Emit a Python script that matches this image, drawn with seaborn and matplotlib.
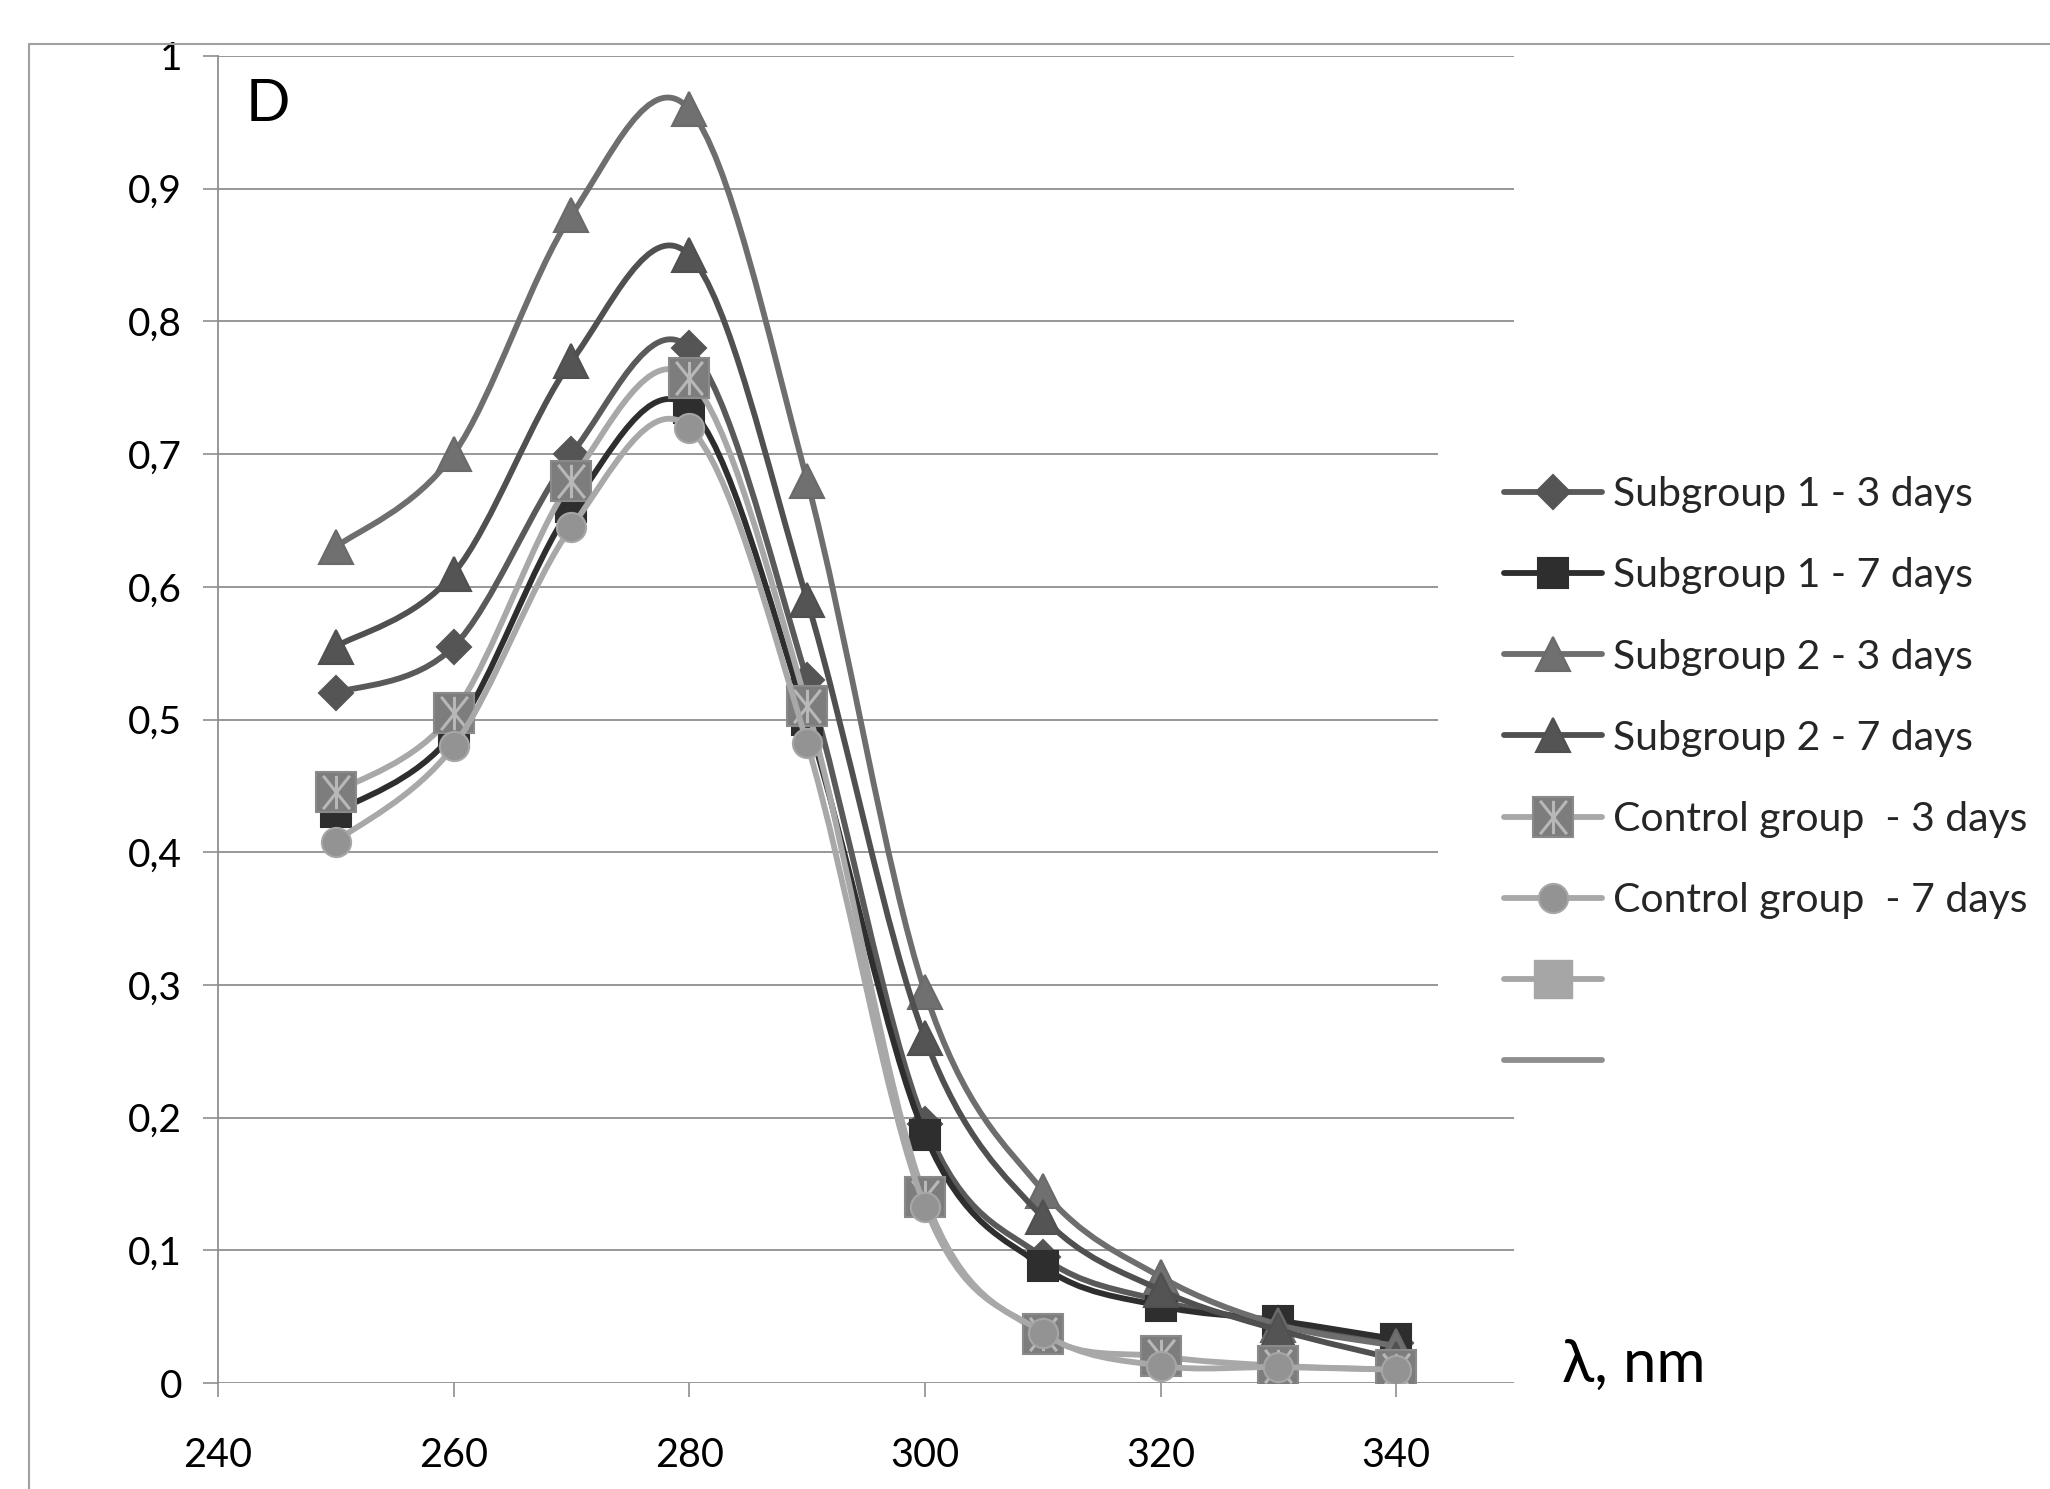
import numpy as np
import pandas as pd
import matplotlib
matplotlib.use("Agg")
import matplotlib.pyplot as plt
import seaborn as sns
from matplotlib.path import Path
from matplotlib.patches import PathPatch, Rectangle
from matplotlib.lines import Line2D
from matplotlib.ticker import FixedLocator, FixedFormatter

# ---------------- data ----------------
wavelength = [250, 260, 270, 280, 290, 300, 310, 320, 330, 340]
sub1_3d = [0.52, 0.555, 0.70, 0.78, 0.53, 0.195, 0.095, 0.062, 0.045, 0.030]
sub1_7d = [0.43, 0.49, 0.66, 0.735, 0.50, 0.187, 0.088, 0.058, 0.047, 0.033]
sub2_3d = [0.63, 0.70, 0.88, 0.96, 0.68, 0.295, 0.145, 0.080, 0.044, 0.028]
sub2_7d = [0.555, 0.61, 0.77, 0.85, 0.59, 0.26, 0.125, 0.070, 0.040, 0.018]
ctrl_3d = [0.445, 0.505, 0.68, 0.757, 0.51, 0.14, 0.037, 0.020, 0.013, 0.010]
ctrl_7d = [0.408, 0.48, 0.645, 0.72, 0.482, 0.133, 0.038, 0.013, 0.012, 0.010]

series_labels = ["Subgroup 1 - 3 days", "Subgroup 1 - 7 days",
                 "Subgroup 2 - 3 days", "Subgroup 2 - 7 days",
                 "Control group  - 3 days", "Control group  - 7 days"]
x_ticks = [240, 260, 280, 300, 320, 340]
y_ticks = [0, 0.1, 0.2, 0.3, 0.4, 0.5, 0.6, 0.7, 0.8, 0.9, 1.0]
y_tick_labels = ["0", "0,1", "0,2", "0,3", "0,4", "0,5", "0,6", "0,7", "0,8", "0,9", "1"]
panel_letter = "D"
x_axis_title = "λ, nm"

# ---------------- style ----------------
sns.set_theme(style="white")
plt.rcParams["font.family"] = ["Lato", "DejaVu Sans"]

W, H = 2050, 1489
fig = plt.figure(figsize=(W / 100, H / 100), dpi=100)
fig.patch.set_facecolor("white")

ax_left, ax_right, ax_top, ax_bottom = 218, 1514, 56, 1383
ax = fig.add_axes([ax_left / W, 1 - ax_bottom / H,
                   (ax_right - ax_left) / W, (ax_bottom - ax_top) / H])
ax.set_xlim(240, 350)
ax.set_ylim(0, 1)

grid_col = "#8f8f8f"
ax.yaxis.set_major_locator(FixedLocator(y_ticks))
ax.yaxis.set_major_formatter(FixedFormatter(y_tick_labels))
ax.xaxis.set_major_locator(FixedLocator(x_ticks))
ax.grid(axis="y", color=grid_col, lw=1.3, zorder=0)
ax.set_axisbelow(True)
for s in ["top", "right", "bottom"]:
    ax.spines[s].set_visible(False)
ax.spines["left"].set_color(grid_col)
ax.spines["left"].set_linewidth(1.3)
ax.tick_params(axis="y", which="major", direction="out", length=11, width=1.2,
               color=grid_col, labelsize=28, pad=15, left=True, labelcolor="black")
ax.tick_params(axis="x", which="major", direction="out", length=10, width=1.2,
               color=grid_col, labelsize=28.5, pad=29, bottom=True, labelcolor="black")

# asterisk marker (X plus vertical line)
ast_path = Path([(0, -1), (0, 1), (-0.8, -1), (0.8, 1), (-0.8, 1), (0.8, -1)],
                [Path.MOVETO, Path.LINETO, Path.MOVETO, Path.LINETO, Path.MOVETO, Path.LINETO])


def smooth_path(xs, ys):
    pts = np.column_stack([xs, ys]).astype(float)
    n = len(pts)
    verts = [pts[0]]
    codes = [Path.MOVETO]
    for i in range(n - 1):
        p0 = pts[i - 1] if i > 0 else pts[i]
        p1 = pts[i]
        p2 = pts[i + 1]
        p3 = pts[i + 2] if i + 2 < n else pts[i + 1]
        c1 = p1 + (p2 - p0) / 6.0
        c2 = p2 - (p3 - p1) / 6.0
        verts += [c1, c2, p2]
        codes += [Path.CURVE4] * 3
    return Path(verts, codes)


styles = [
    dict(y=sub1_3d, lc="#5a5a5a", marker="D", ms=17, mfc="#555555", mec="#555555"),
    dict(y=sub1_7d, lc="#2e2e2e", marker="s", ms=22, mfc="#2e2e2e", mec="#2e2e2e"),
    dict(y=sub2_3d, lc="#6e6e6e", marker="^", ms=24, mfc="#707070", mec="#6a6a6a"),
    dict(y=sub2_7d, lc="#505050", marker="^", ms=24, mfc="#545454", mec="#505050"),
    dict(y=ctrl_3d, lc="#a8a8a8", marker="s", ms=29, mfc="#7d7d7d", mec="#8a8a8a"),
    dict(y=ctrl_7d, lc="#a8a8a8", marker="o", ms=21, mfc="#939393", mec="#a6a6a6"),
]

lw = 4.2
handles = []
for i, st in enumerate(styles):
    z = 3 + i * 2
    patch = PathPatch(smooth_path(wavelength, st["y"]), facecolor="none",
                      edgecolor=st["lc"], lw=lw, zorder=z, transform=ax.transData,
                      capstyle="round", joinstyle="round")
    ax.add_patch(patch)
    df = pd.DataFrame({"x": wavelength, "y": st["y"]})
    sns.lineplot(data=df, x="x", y="y", ax=ax, linestyle="none", marker=st["marker"],
                 markersize=st["ms"], markerfacecolor=st["mfc"], markeredgecolor=st["mec"],
                 markeredgewidth=1.5, color=st["lc"], zorder=z + 1, legend=False)
    h = Line2D([], [], color=st["lc"], lw=lw, marker=st["marker"], markersize=st["ms"],
               markerfacecolor=st["mfc"], markeredgecolor=st["mec"], markeredgewidth=1.5)
    if i == 4:
        sns.lineplot(data=df, x="x", y="y", ax=ax, linestyle="none", marker=ast_path,
                     markersize=24, markerfacecolor="none", markeredgecolor="#b8b8b8",
                     markeredgewidth=2.2, zorder=z + 1.5, legend=False)
        h2 = Line2D([], [], linestyle="none", marker=ast_path, markersize=24,
                    markerfacecolor="none", markeredgecolor="#b8b8b8", markeredgewidth=2.2)
        h = (h, h2)
    handles.append(h)

# empty-named extra legend entries
handles.append(Line2D([], [], color="#a6a6a6", lw=lw, marker="s", markersize=27,
                      markerfacecolor="#a6a6a6", markeredgecolor="#a6a6a6"))
handles.append(Line2D([], [], color="#8e8e8e", lw=lw))
labels = series_labels + ["", ""]

ax.set_xlabel("")
ax.set_ylabel("")
ax.set_xlim(240, 350)
ax.set_ylim(0, 1)

ax.text((246 - ax_left) / (ax_right - ax_left), (ax_bottom - 121) / (ax_bottom - ax_top),
        panel_letter, transform=ax.transAxes, fontsize=42,
        va="baseline", ha="left", color="black")

fig.text(1562 / W, 1 - 1382 / H, x_axis_title, fontsize=43, va="baseline", ha="left",
         color="black", family=["Lato", "DejaVu Sans"])

# white panel behind legend hiding gridline ends
fig.add_artist(Rectangle((1438 / W, 1 - 1100 / H), 90 / W, 660 / H,
                         transform=fig.transFigure, facecolor="white", edgecolor="none",
                         zorder=1))

leg = fig.legend(handles, labels, loc="upper left",
                 bbox_to_anchor=(1504 / W, 1 - 476 / H), frameon=False,
                 fontsize=29.5, handlelength=2.4, handletextpad=0.25,
                 labelspacing=1.08, borderaxespad=0, borderpad=0, numpoints=1)

# outer chart-area frame
frame_col = "#a0a0a0"
fig.add_artist(Line2D([29 / W, 1.0], [1 - 44 / H, 1 - 44 / H], transform=fig.transFigure,
                      color=frame_col, lw=1.5))
fig.add_artist(Line2D([29 / W, 29 / W], [1 - 44 / H, 0.0], transform=fig.transFigure,
                      color=frame_col, lw=1.5))

fig.savefig("out.png", dpi=100, facecolor="white")
